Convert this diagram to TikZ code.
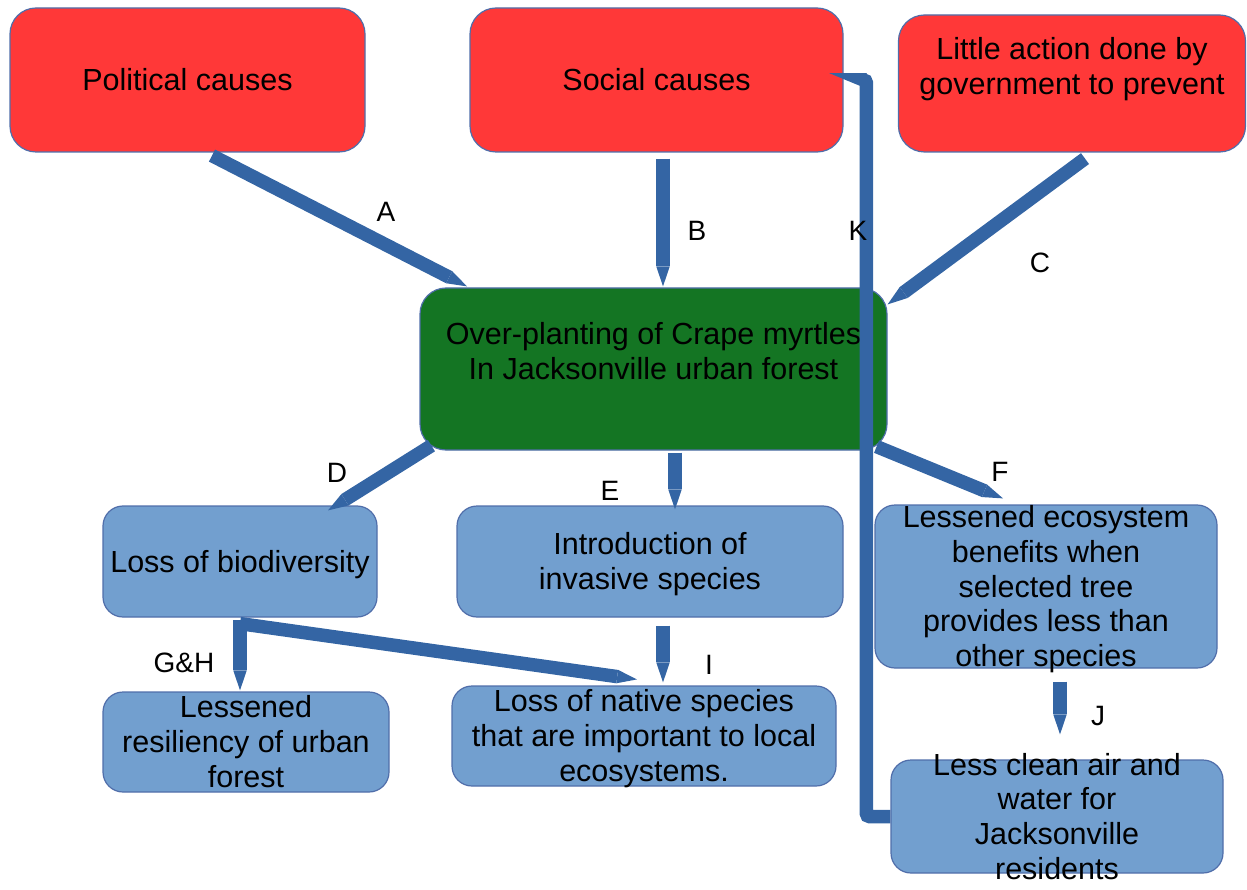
\documentclass[tikz,border=0pt]{standalone}
\usepackage{fontspec}
\setmainfont{Liberation Sans}
\usetikzlibrary{arrows.meta,calc}
\definecolor{boxred}{RGB}{255,56,56}
\definecolor{boxgreen}{RGB}{20,117,35}
\definecolor{boxblue}{RGB}{114,159,207}
\definecolor{arrowblue}{RGB}{52,101,164}
\definecolor{edgeblue}{RGB}{80,110,170}
\newcommand\ls{\rule[-6.47pt]{0pt}{34.07pt}}
\begin{document}
\begin{tikzpicture}[x=1pt,y=-1pt,
  boxtext/.style={align=center, inner sep=0pt, text=black, font=\fontsize{30.5}{34.7}\selectfont},
  box/.style={boxtext, draw=edgeblue, line width=1.2pt},
  redbox/.style={box, fill=boxred, rounded corners=26pt},
  greenbox/.style={box, fill=boxgreen, rounded corners=26pt},
  bluebox/.style={box, fill=boxblue, rounded corners=20pt},
  conn/.style={draw=arrowblue, line width=13.5pt, -{Triangle[width=13.5pt,length=20pt,line width=0pt]}},
  lbl/.style={inner sep=0pt, text=black, font=\fontsize{28}{32}\selectfont}
]
\useasboundingbox (0,0) rectangle (1247,890);

% boxes
\node[redbox, minimum width=355, minimum height=144] (pol) at (187.5,80) {\ls Political causes\ls};
\node[redbox, minimum width=373, minimum height=144] (soc) at (656.5,80) {\ls Social causes\ls};
\node[redbox, minimum width=347, minimum height=137] (act) at (1072,83.5) {\ls Little action done by\\government to prevent\\\ls};
\node[greenbox, minimum width=467, minimum height=162] (over) at (653.5,369) {\ls Over-planting of Crape myrtles\\In Jacksonville urban forest\\\ls};
\node[bluebox, minimum width=274, minimum height=111] (bio) at (240,561.5) {\ls Loss of biodiversity\ls};
\node[bluebox, minimum width=386, minimum height=111] (inv) at (650,561.5) {\ls Introduction of\\invasive species\ls};
\node[bluebox, minimum width=342, minimum height=163,
  label={[boxtext]center:{\ls Lessened ecosystem\\benefits when\\selected tree\\provides less than\\other species\ls}}] (eco) at (1046,586.5) {};
\node[bluebox, minimum width=286, minimum height=100,
  label={[boxtext]center:{\ls Lessened\\resiliency of urban\\forest\ls}}] (res) at (246,742) {};
\node[bluebox, minimum width=384, minimum height=100,
  label={[boxtext]center:{\ls Loss of native species\\that are important to local\\ecosystems.\ls}}] (nat) at (644,736) {};
\node[bluebox, minimum width=332, minimum height=113,
  label={[boxtext]center:{\ls Less clean air and\\water for\\Jacksonville\\residents\ls}}] (air) at (1057,816.5) {};

% connectors
\draw[conn] ($(pol.south)+(24.5,3)$) -- ($(over.north)+(-186.5,-1)$);
\draw[conn] ($(soc.south)+(6.5,6)$) -- ($(over.north)+(9.5,-1)$);
\draw[conn] ($(act.south)+(13,6)$) -- ($(over.north east)+(0,17)$);
\draw[conn, rounded corners=3pt] (air.west) -- ++(-24,0) |- ($(soc.east)+(3,0)$);
\draw[conn] ($(over.south west)+(12,-5)$) -- ($(bio.north)+(88,5)$);
\draw[conn] ($(over.south)+(21.5,2)$) -- ($(inv.north)+(25,4)$);
\draw[conn] ($(over.south east)+(-11,-4)$) -- ($(eco.north)+(-43,-6)$);
\draw[conn] ($(bio.south)+(0,2)$) -- ($(res.north)+(-6,-1)$);
\draw[conn] ($(bio.south)+(0,6)$) -- ($(nat.north)+(-7,-6)$);
\draw[conn] ($(inv.south)+(13,8)$) -- ($(nat.north)+(19,-3)$);
\draw[conn] ($(eco.south)+(14,13)$) -- ($(air.north)+(3,-25)$);

% labels
\node[lbl] (la) at (386,212) {A};
\node[lbl] (lb) at (697,231) {B};
\node[lbl] (lc) at (1040,263) {C};
\node[lbl] (lk) at (858,231) {K};
\node[lbl] (ld) at (337,473) {D};
\node[lbl] (le) at (610,491) {E};
\node[lbl] (lf) at (1000,472) {F};
\node[lbl] (lgh) at (184,663) {G\&H};
\node[lbl] (li) at (709,665) {I};
\node[lbl] (lj) at (1098,716) {J};
\end{tikzpicture}
\end{document}
